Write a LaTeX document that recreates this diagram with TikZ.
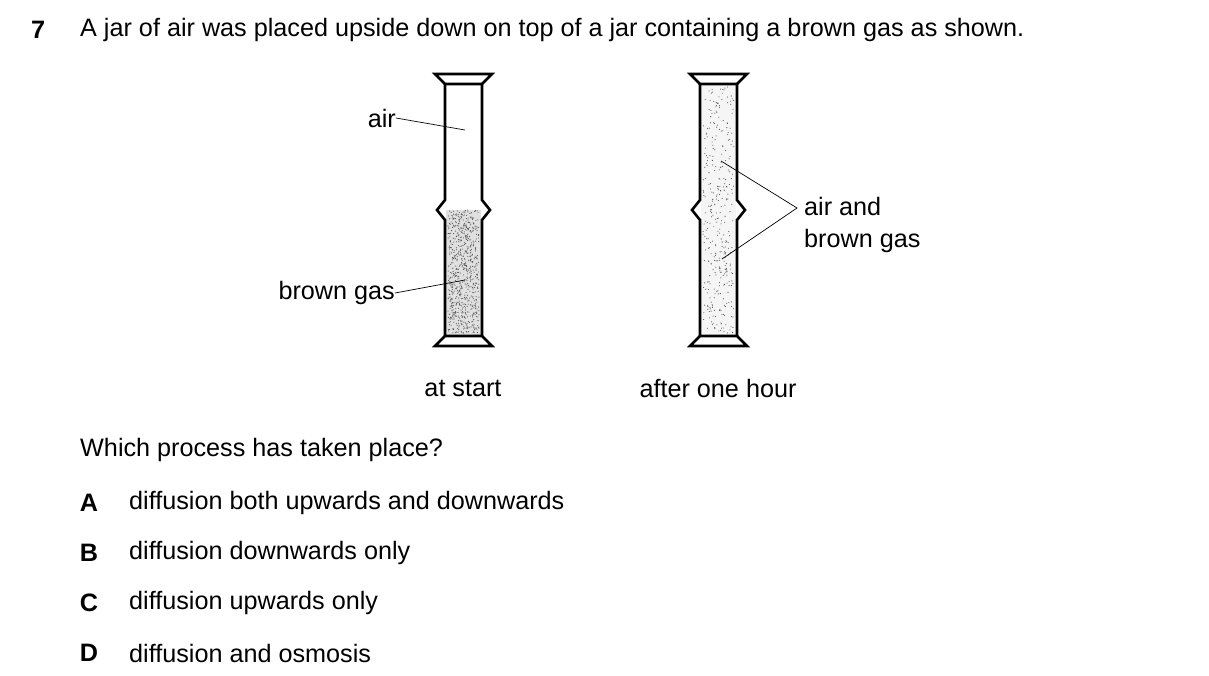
\documentclass[tikz,border=0pt]{standalone}
\usepackage{fontspec}
\setmainfont{Liberation Sans}
\begin{document}
\begin{tikzpicture}[x=1pt,y=-1pt,line join=miter,
  txt/.style={font=\fontsize{25.2}{29}\selectfont,inner sep=0pt},
  wall/.style={line width=2.6pt},
  lead/.style={line width=0.7pt}]
\useasboundingbox (0,0) rectangle (1209,676);
\pgfmathsetseed{7}
% jar outline: #1 = left wall x
\newcommand{\jarshape}[1]{%
  \draw[wall] (#1-10,74) -- (#1+47,74) -- (#1+37,84) -- (#1,84) -- cycle;
  \draw[wall] (#1-10,346) -- (#1+47,346) -- (#1+37,336) -- (#1,336) -- cycle;
  \draw[wall] (#1,84) -- (#1,200) -- (#1-8,210) -- (#1,220) -- (#1,336);
  \draw[wall] (#1+37,84) -- (#1+37,200) -- (#1+45,210) -- (#1+37,220) -- (#1+37,336);
}
% dots: #1 = left x, #2 = top y, #3 = count
\newcommand{\stipple}[3]{%
  \foreach \i in {1,...,#3}{
    \pgfmathsetmacro{\px}{#1+3+31*rnd}
    \pgfmathsetmacro{\py}{#2+(333-#2)*rnd}
    \fill[black!70] (\px,\py) circle (0.55);
  }
}
\fill[black!12] (446,210) rectangle (481,335);
\stipple{445}{210}{700}
\fill[black!4] (701,86) rectangle (736,335);
\stipple{700}{86}{350}
\jarshape{445}
\jarshape{700}

\node[txt,anchor=west] (num) at (31,30) {\textbf{7}};
\node[txt,anchor=west] (stem) at (80,30) {A jar of air was placed upside down on top of a jar containing a brown gas as shown.};

\node[txt,anchor=east] (air) at (396,118) {air};
\coordinate (airpt) at (465,130);
\draw[lead] (air.east) -- (airpt);
\node[txt,anchor=east] (brown) at (395,293) {brown gas};
\coordinate (brownpt) at (465,280);
\draw[lead] (brown.east) -- (brownpt);

\node[txt,anchor=west,align=left] (mix) at (804,225) {air and\\[3pt]brown gas};
\coordinate (mixtip) at (797,208);
\coordinate (mixup) at (721,161);
\coordinate (mixdn) at (722,259);
\draw[lead] (mixup) -- (mixtip) -- (mixdn);

\node[txt] (start) at (463,388) {at start};
\node[txt] (hour) at (718,388) {after one hour};

\node[txt,anchor=west] (q) at (80,450) {Which process has taken place?};
\foreach \l/\t/\y in {A/diffusion both upwards and downwards/503,
  B/diffusion downwards only/553,C/diffusion upwards only/603,D/diffusion and osmosis/653}{
  \node[txt] (opt\l) at (89,\y) {\textbf{\l}};
  \node[txt,anchor=west] (txt\l) at (129,\y) {\t};
}
\end{tikzpicture}
\end{document}
